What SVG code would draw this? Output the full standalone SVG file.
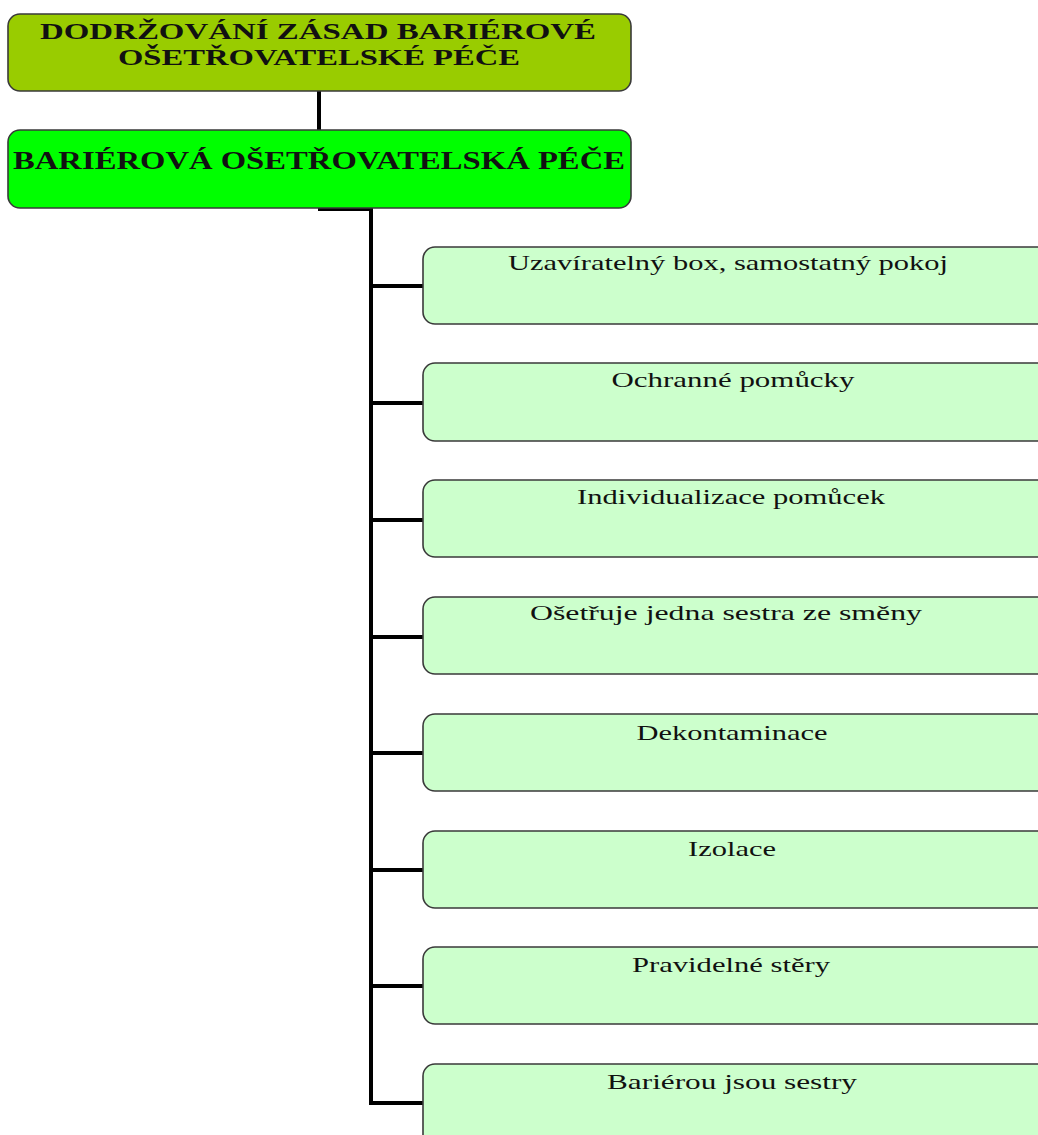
<svg xmlns="http://www.w3.org/2000/svg" width="1038" height="1135" viewBox="0 0 1038 1135">
<style>
.box{stroke:#3a3a3a;stroke-width:1.6}
.top{fill:#99cc00}
.mid{fill:#00ff00}
.leaf{fill:#ccffcc}
.t{font-family:"Liberation Serif","Times New Roman",serif;fill:#111;text-anchor:middle}
.tb{font-weight:bold;font-size:25px}
.tb1{font-weight:bold;font-size:23px}
.tl{font-size:22px}
.c{stroke:#000;stroke-width:4;fill:none}
</style>
<rect width="1038" height="1135" fill="#fff"/>
<g id="connectors">
<line class="c" x1="319" y1="91" x2="319" y2="130"/>
<polyline class="c" points="318,209 371,209 371,1103 424,1103"/>
<line class="c" x1="371" y1="286" x2="424" y2="286"/>
<line class="c" x1="371" y1="403" x2="424" y2="403"/>
<line class="c" x1="371" y1="520" x2="424" y2="520"/>
<line class="c" x1="371" y1="637" x2="424" y2="637"/>
<line class="c" x1="371" y1="753" x2="424" y2="753"/>
<line class="c" x1="371" y1="870" x2="424" y2="870"/>
<line class="c" x1="371" y1="986" x2="424" y2="986"/>
</g>
<g id="n-root">
<rect class="box top" x="8" y="14" width="623" height="77" rx="12"/>
<text class="t tb1" x="318" y="39" textLength="556" lengthAdjust="spacingAndGlyphs">DODRŽOVÁNÍ ZÁSAD  BARIÉROVÉ</text>
<text class="t tb1" x="319" y="65" textLength="402" lengthAdjust="spacingAndGlyphs">OŠETŘOVATELSKÉ PÉČE</text>
</g>
<g id="n-bariera">
<rect class="box mid" x="8" y="130" width="623" height="78" rx="12"/>
<text class="t tb" x="319" y="169" textLength="612" lengthAdjust="spacingAndGlyphs">BARIÉROVÁ OŠETŘOVATELSKÁ PÉČE</text>
</g>
<g id="n1">
<rect class="box leaf" x="423" y="247" width="630" height="77" rx="12"/>
<text class="t tl" x="728" y="270" textLength="440" lengthAdjust="spacingAndGlyphs">Uzavíratelný box, samostatný pokoj</text>
</g>
<g id="n2">
<rect class="box leaf" x="423" y="363" width="630" height="78" rx="12"/>
<text class="t tl" x="733" y="387" textLength="243" lengthAdjust="spacingAndGlyphs">Ochranné pomůcky</text>
</g>
<g id="n3">
<rect class="box leaf" x="423" y="480" width="630" height="77" rx="12"/>
<text class="t tl" x="731" y="504" textLength="308" lengthAdjust="spacingAndGlyphs">Individualizace pomůcek</text>
</g>
<g id="n4">
<rect class="box leaf" x="423" y="597" width="630" height="77" rx="12"/>
<text class="t tl" x="726" y="620" textLength="392" lengthAdjust="spacingAndGlyphs">Ošetřuje jedna sestra ze směny</text>
</g>
<g id="n5">
<rect class="box leaf" x="423" y="714" width="630" height="77" rx="12"/>
<text class="t tl" x="732" y="740" textLength="191" lengthAdjust="spacingAndGlyphs">Dekontaminace</text>
</g>
<g id="n6">
<rect class="box leaf" x="423" y="831" width="630" height="77" rx="12"/>
<text class="t tl" x="732" y="856" textLength="88" lengthAdjust="spacingAndGlyphs">Izolace</text>
</g>
<g id="n7">
<rect class="box leaf" x="423" y="947" width="630" height="77" rx="12"/>
<text class="t tl" x="731" y="972" textLength="198" lengthAdjust="spacingAndGlyphs">Pravidelné stěry</text>
</g>
<g id="n8">
<rect class="box leaf" x="423" y="1064" width="630" height="90" rx="12"/>
<text class="t tl" x="732" y="1089" textLength="250" lengthAdjust="spacingAndGlyphs">Bariérou jsou sestry</text>
</g>
</svg>
